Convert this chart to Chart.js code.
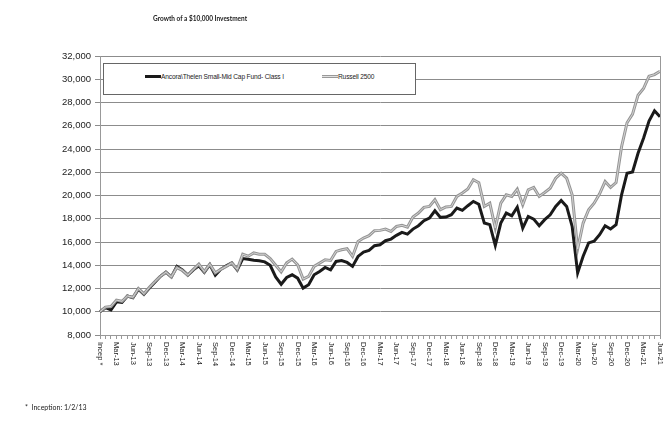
<!DOCTYPE html>
<html>
<head>
<meta charset="utf-8">
<script src="https://cdn.jsdelivr.net/npm/chart.js@4.4.0/dist/chart.umd.min.js"></script>
<style>
body { margin: 0; background: #fff; }
#wrap { position: relative; width: 670px; height: 427px; }
#title { position: absolute; left: 153px; top: 15px; font: bold 6.5px Lato, sans-serif; color: #222; white-space: nowrap; }
#legend { position: absolute; left: 103px; top: 63px; width: 313px; height: 32px; border: 1px solid #666; background: #fff; box-sizing: border-box; }
.item { position: absolute; top: 8px; font: 6.6px "Liberation Sans", Arial, sans-serif; letter-spacing: -0.15px; color: #222; white-space: nowrap; line-height: 9px; }
.sw { display: inline-block; width: 16px; vertical-align: middle; margin-top: -2px; }
#note { position: absolute; left: 25px; top: 403px; font: 7px Lato, sans-serif; color: #222; white-space: nowrap; }
</style>
</head>
<body>
<div id="wrap">
    <canvas id="graphCanvas" width="670" height="427"></canvas>
    <div id="title">Growth of a $10,000 Investment</div>
    <div id="legend">
        <div class="item" style="left:41px;"><span class="sw" style="height:3px;background:#1a1a1a;"></span>Ancora\Thelen Small-Mid Cap Fund- Class I</div>
        <div class="item" style="left:218px;"><span class="sw" style="height:1px;background:#e0e0e0;border-top:1px solid #999;border-bottom:1px solid #999;"></span>Russell 2500</div>
    </div>
    <div id="note">*&nbsp; Inception: 1/2/13</div>
</div>
<script>
var tickLabels = ["Incep *", "Mar-13", "Jun-13", "Sep-13", "Dec-13", "Mar-14", "Jun-14", "Sep-14", "Dec-14",
    "Mar-15", "Jun-15", "Sep-15", "Dec-15", "Mar-16", "Jun-16", "Sep-16", "Dec-16", "Mar-17", "Jun-17",
    "Sep-17", "Dec-17", "Mar-18", "Jun-18", "Sep-18", "Dec-18", "Mar-19", "Jun-19", "Sep-19", "Dec-19",
    "Mar-20", "Jun-20", "Sep-20", "Dec-20", "Mar-21", "Jun-21"];

var monthNames = ["Jan", "Feb", "Mar", "Apr", "May", "Jun", "Jul", "Aug", "Sep", "Oct", "Nov", "Dec"];

// Jan-13 .. Jun-21, after the inception point
var fund = [10000,
    10350, 10150, 10850, 10800, 11350, 11200, 11950, 11500, 12050, 12550, 13050, 13400,
    13000, 13900, 13600, 13150, 13600, 13950, 13400, 14050, 13150, 13650, 13950, 14200,
    13600, 14580, 14520, 14430, 14380, 14290, 14000, 13000, 12370, 12950, 13180, 12890,
    12030, 12320, 13180, 13470, 13810, 13610, 14330, 14410, 14240, 13900, 14760, 15130,
    15270, 15680, 15760, 16110, 16250, 16570, 16830, 16680, 17110, 17400, 17830, 18060,
    18690, 18120, 18150, 18350, 18920, 18720, 19120, 19490, 19250, 17630, 17490, 15710,
    17630, 18490, 18260, 19000, 17200, 18200, 17970, 17400, 17920, 18340, 19060, 19570,
    19060, 17340, 13340, 14770, 15920, 16060, 16630, 17400, 17120, 17490, 20060, 21920,
    22030, 23630, 24920, 26400, 27290, 26770];

var russell = [10000,
    10400, 10450, 11000, 10900, 11350, 11250, 12000, 11550, 12100, 12600, 13050, 13400,
    13000, 13800, 13550, 13150, 13650, 14100, 13450, 14100, 13350, 13650, 13900, 14200,
    13650, 14950, 14780, 15060, 14950, 14950, 14580, 14000, 13430, 14200, 14530, 14040,
    12810, 13040, 13900, 14180, 14470, 14410, 15190, 15330, 15420, 14760, 16050, 16340,
    16540, 16970, 17000, 17110, 16910, 17340, 17430, 17280, 18150, 18490, 18980, 19060,
    19640, 18780, 19010, 19060, 19920, 20210, 20560, 21360, 21100, 19060, 19340, 17200,
    19340, 20060, 19920, 20540, 19200, 20490, 20690, 19920, 20260, 20630, 21490, 21920,
    21490, 20060, 15400, 17630, 18770, 19340, 20140, 21200, 20690, 21110, 24200, 26260,
    27000, 28630, 29200, 30260, 30400, 30690];

var months = ["Incep"];
for (var y = 13; y <= 21; y++) {
    for (var m = 0; m < 12; m++) {
        if (y == 21 && m > 5) break;
        months.push(monthNames[m] + "-" + y);
    }
}

// x labels read top to bottom, so they are drawn here
var xLabels = {
    id: "xLabels",
    afterDraw: function (chart) {
        var x = chart.scales.x, ctx = chart.ctx, area = chart.chartArea;
        ctx.save();
        ctx.strokeStyle = "#999";
        ctx.lineWidth = 1;
        ctx.beginPath();
        ctx.moveTo(Math.round(area.right) + 0.5, area.top);
        ctx.lineTo(Math.round(area.right) + 0.5, area.bottom);
        ctx.stroke();
        ctx.font = '7.5px "Liberation Sans", Arial, sans-serif';
        ctx.fillStyle = "#1a1a1a";
        ctx.textAlign = "left";
        ctx.textBaseline = "middle";
        tickLabels.forEach(function (t, k) {
            var px = x.getPixelForValue(k * 3);
            ctx.save();
            ctx.translate(px, x.top + 7);
            ctx.rotate(Math.PI / 2);
            ctx.fillText(t, 0, 0);
            ctx.restore();
        });
        ctx.restore();
    }
};

// light centre line on the Russell series
var innerLine = {
    id: "innerLine",
    afterDatasetsDraw: function (chart) {
        var pts = chart.getDatasetMeta(1).data, ctx = chart.ctx, area = chart.chartArea;
        ctx.save();
        ctx.beginPath();
        ctx.rect(area.left, area.top, area.right - area.left, area.bottom - area.top);
        ctx.clip();
        ctx.strokeStyle = "#d4d4d4";
        ctx.lineWidth = 1;
        ctx.lineJoin = "round";
        ctx.beginPath();
        pts.forEach(function (p, i) {
            if (i == 0) ctx.moveTo(p.x, p.y); else ctx.lineTo(p.x, p.y);
        });
        ctx.stroke();
        ctx.restore();
    }
};

var ctx = document.getElementById("graphCanvas");

var data = {
    labels: months,
    datasets: [
        {
            label: "Ancora\\Thelen Small-Mid Cap Fund- Class I",
            data: fund,
            borderColor: "#1a1a1a",
            borderWidth: 3,
            pointRadius: 0,
            tension: 0,
            order: 1,
        },
        {
            label: "Russell 2500",
            data: russell,
            borderColor: "#959595",
            borderWidth: 3,
            pointRadius: 0,
            tension: 0,
            order: 0,
        },
    ],
};

var options = {
    responsive: false,
    animation: false,
    devicePixelRatio: 1,
    layout: { padding: { left: 0, right: 10, top: 56, bottom: 0 } },
    plugins: {
        legend: { display: false },
        tooltip: { enabled: false },
        title: { display: false },
    },
    scales: {
        x: {
            offset: false,
            ticks: { display: false },
            grid: { drawOnChartArea: false, tickLength: 4, color: "#999" },
            border: { color: "#999" },
            afterFit: function (s) { s.height = 92; },
        },
        y: {
            min: 8000,
            max: 32000,
            ticks: {
                stepSize: 2000,
                padding: 4,
                color: "#222",
                font: { family: '"Liberation Sans", Arial, sans-serif', size: 9.5 },
                callback: function (v) { return v.toLocaleString("en-US"); },
            },
            grid: { color: "#8c8c8c", tickLength: 5 },
            border: { color: "#999" },
            afterFit: function (s) { s.width = 100; },
        },
    },
};

var chart1 = new Chart(ctx, {
    type: "line",
    data: data,
    options: options,
    plugins: [innerLine, xLabels],
});
</script>
</body>
</html>
